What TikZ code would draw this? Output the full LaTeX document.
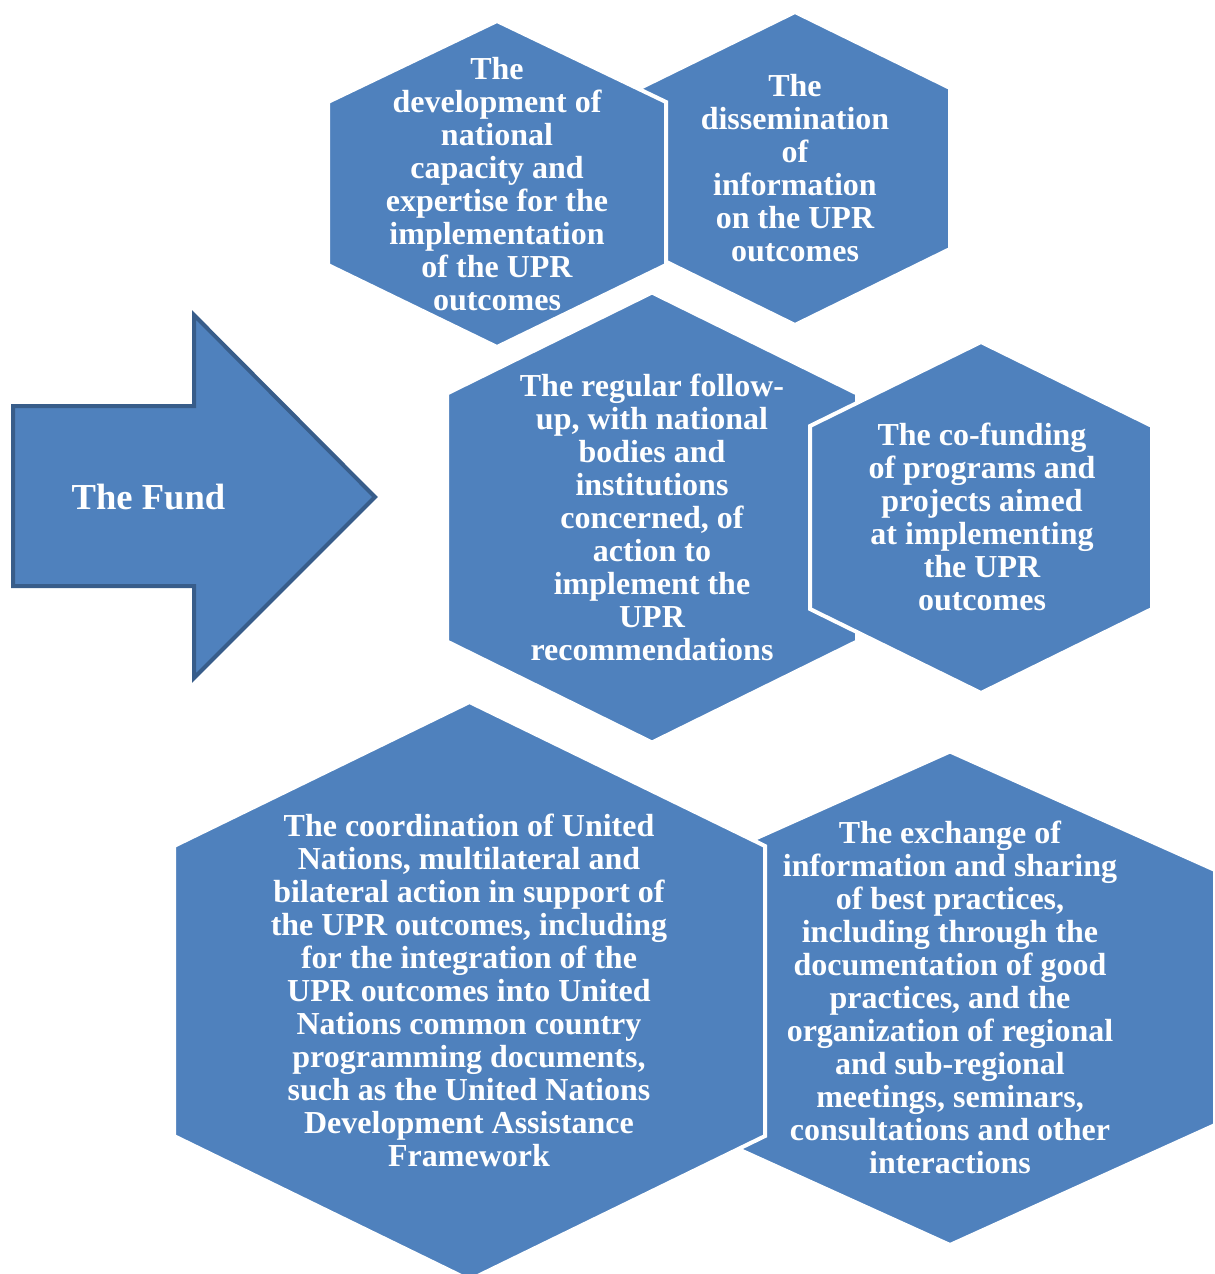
\documentclass[tikz,border=0pt]{standalone}
\usepackage{fontspec}
\setmainfont{Liberation Serif}
\usepackage{tikz}
\usetikzlibrary{positioning}

\definecolor{cellblue}{HTML}{4F81BD}
\definecolor{cellrim}{HTML}{385D8A}

\begin{document}
\begin{tikzpicture}[
  x=0.5pt, y=-0.5pt,
  cell/.style={fill=cellblue, draw=white, line width=2pt, line join=miter},
  celltext/.style={text=white, align=center, inner sep=0pt,
    font=\fontsize{16}{16.5}\selectfont\bfseries},
  fundarrow/.style={fill=cellblue, draw=cellrim, line width=2pt, line join=miter}
]
\useasboundingbox (0,0) rectangle (1215,1274);

% hexagons, back to front
\path[cell] (795,12) -- (950,88) -- (950,249) -- (795,325) -- (640,249) -- (640,88) -- cycle;
\path[cell] (497,21) -- (666,102) -- (666,265) -- (497,347) -- (328,265) -- (328,102) -- cycle;
\path[cell] (652,292.5) -- (857,393.5) -- (857,641.5) -- (652,742.5) -- (447,641.5) -- (447,393.5) -- cycle;
\path[cell] (981,342) -- (1152,426) -- (1152,609) -- (981,693) -- (810,609) -- (810,426) -- cycle;
\path[cell] (950,751.5) -- (1215,870) -- (1215,1125) -- (950,1245) -- (685,1125) -- (685,870) -- cycle;
\path[cell] (469.5,702) -- (765,846) -- (765,1136) -- (469.5,1280) -- (174,1136) -- (174,846) -- cycle;

% the big arrow
\path[fundarrow] (13,406) -- (194,406) -- (194,315) -- (375,497) -- (194,678)
  -- (194,586) -- (13,586) -- cycle;
\node[text=white, font=\fontsize{18.3}{22}\selectfont\bfseries] (fund) at (148.5,497) {The Fund};

% texts
\node[celltext] (capacity) at (497,184)
  {The\\development of\\national\\capacity and\\expertise for the\\implementation\\of the UPR\\outcomes};
\node[celltext] (dissem) at (795,168)
  {The\\dissemination\\of\\information\\on the UPR\\outcomes};
\node[celltext] (followup) at (652,517.5)
  {The regular follow-\\up, with national\\bodies and\\institutions\\concerned, of\\action to\\implement the\\UPR\\recommendations};
\node[celltext] (cofund) at (982,517)
  {The co-funding\\of programs and\\projects aimed\\at implementing\\the UPR\\outcomes};
\node[celltext] (coord) at (469,990.5)
  {The coordination of United\\Nations, multilateral and\\bilateral action in support of\\the UPR outcomes, including\\for the integration of the\\UPR outcomes into United\\Nations common country\\programming documents,\\such as the United Nations\\Development Assistance\\Framework};
\node[celltext] (exchange) at (950,997.5)
  {The exchange of\\information and sharing\\of best practices,\\including through the\\documentation of good\\practices, and the\\organization of regional\\and sub-regional\\meetings, seminars,\\consultations and other\\interactions};
\end{tikzpicture}
\end{document}
